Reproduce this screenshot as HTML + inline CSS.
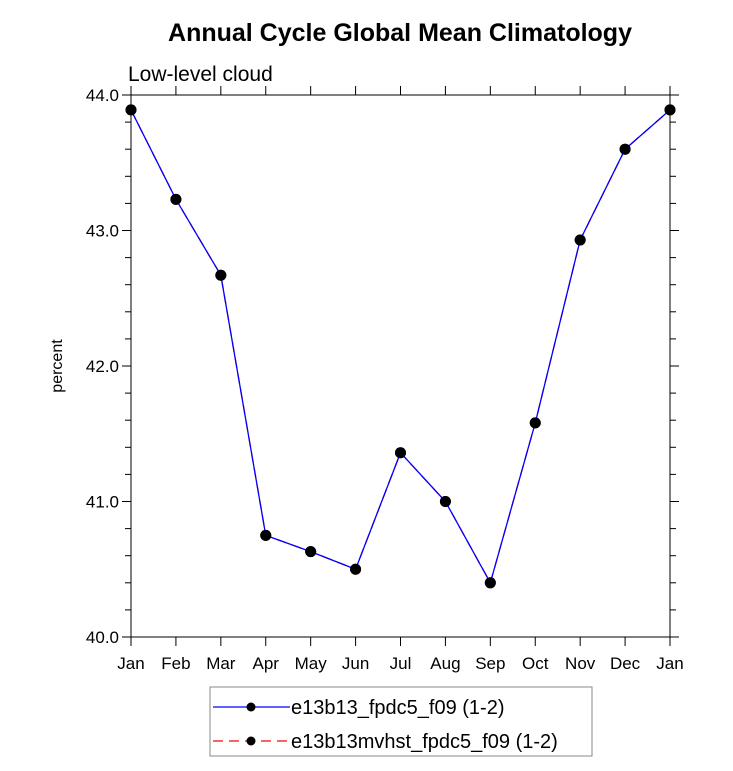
<!DOCTYPE html>
<html><head><meta charset="utf-8"><style>body{margin:0;background:#fff}svg{font-family:"Liberation Sans",sans-serif}</style></head>
<body>
<svg id="chart" width="733" height="766">
<text x="400" y="41" font-size="25" font-weight="bold" text-anchor="middle">Annual Cycle Global Mean Climatology</text>
<text x="128" y="81" font-size="21">Low-level cloud</text>
<text transform="translate(62,366) rotate(-90)" font-size="16" text-anchor="middle">percent</text>
<rect x="131" y="95" width="539" height="542" fill="none" stroke="#000" stroke-width="1"/>
<g id="axes"></g><g id="series"></g>
<rect x="210" y="687" width="382" height="69" fill="#fff" stroke="#888"/>
<line x1="213" y1="707" x2="290" y2="707" stroke="#00f" stroke-width="1.3"/>
<circle cx="251" cy="707" r="4.5"/>
<text x="291" y="714" font-size="20">e13b13_fpdc5_f09 (1-2)</text>
<line x1="213" y1="741" x2="290" y2="741" stroke="#f00" stroke-width="1.3" stroke-dasharray="10,6"/>
<circle cx="251" cy="741" r="4.5"/>
<text x="291" y="748" font-size="20">e13b13mvhst_fpdc5_f09 (1-2)</text>
</svg>
<script>
const months=["Jan","Feb","Mar","Apr","May","Jun","Jul","Aug","Sep","Oct","Nov","Dec","Jan"];
const series1=[43.89,43.23,42.67,40.75,40.63,40.5,41.36,41.0,40.4,41.58,42.93,43.6,43.89];
const series2=[43.89,43.23,42.67,40.75,40.63,40.5,41.36,41.0,40.4,41.58,42.93,43.6,43.89];
const yTicks=[40,41,42,43,44];
const NS="http://www.w3.org/2000/svg";
const X0=131,X1=670,Y0=637,Y1=95,ymin=40,ymax=44;
const xs=i=>X0+(X1-X0)*i/(months.length-1);
const ys=v=>Y0-(Y0-Y1)*(v-ymin)/(ymax-ymin);
function mk(t,a,p){const e=document.createElementNS(NS,t);for(const k in a)e.setAttribute(k,a[k]);p.appendChild(e);return e;}
const ax=document.getElementById('axes'),sr=document.getElementById('series');
months.forEach((m,i)=>{const x=xs(i);
 let t=mk('line',{x1:x,x2:x,y1:Y0,y2:Y0+9,stroke:'#000'},ax);
 
 
 t=mk('line',{x1:x,x2:x,y1:Y1,y2:Y1-9,stroke:'#000'},ax);
 
 
 const l=mk('text',{x:x,y:669,'font-size':17,'text-anchor':'middle'},ax);l.textContent=m;
 
 
});
for(let v=ymin;v<=ymax+1e-9;v+=0.2){const y=ys(v);const major=Math.abs(v-Math.round(v))<1e-6;const len=major?9:6;
 [[X0,X0-len],[X1,X1+len]].forEach(p=>{const t=mk('line',{x1:p[0],x2:p[1],y1:y,y2:y,stroke:'#000'},ax);
 
 });}
yTicks.forEach(v=>{const l=mk('text',{x:119,y:ys(v)+6,'font-size':17,'text-anchor':'end'},ax);l.textContent=v.toFixed(1);
 
 });
function draw(data,color,dash,name){
 const p=mk('polyline',{points:data.map((v,i)=>xs(i)+','+ys(v)).join(' '),fill:'none',stroke:color,'stroke-width':1.3,'stroke-dasharray':dash},sr);
 
 
 data.forEach((v,i)=>{const c=mk('circle',{cx:xs(i),cy:ys(v),r:5.5,fill:'#000'},sr);
 
 });
}
draw(series2,'#f00','10,6','series-2');
draw(series1,'#00f','none','series-1');
</script>
</body></html>
